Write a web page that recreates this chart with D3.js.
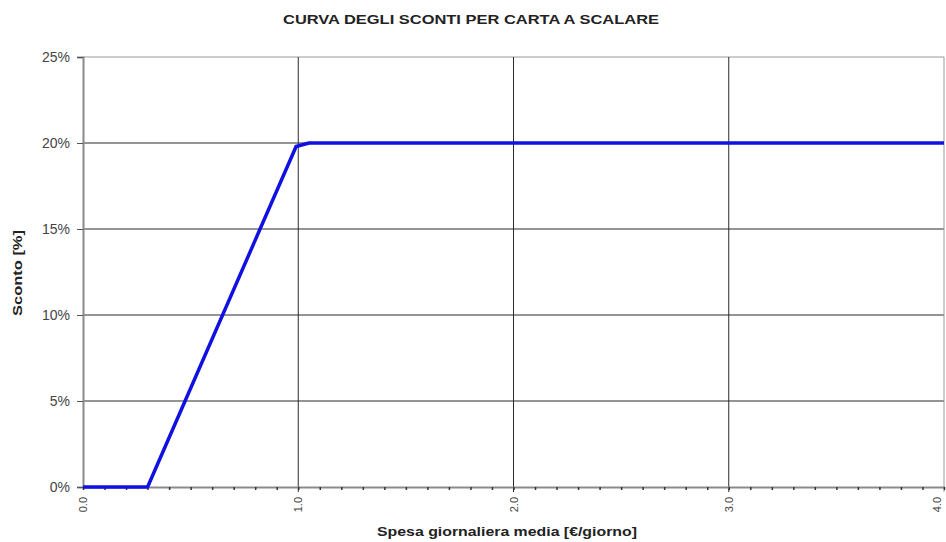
<!DOCTYPE html>
<html lang="en">
<head>
  <meta charset="UTF-8">
  <title>Curva degli sconti</title>
  <style>
    body { margin: 0; background: #fff; }
    svg text { font-family: "Liberation Sans", Arial, sans-serif; }
  </style>
</head>
<body>
  <svg id="chart" width="946" height="542"></svg>

  <script src="https://d3js.org/d3.v7.min.js"></script>
  <script>
    // spesa giornaliera media [€/giorno] -> sconto
    const spesa = [0.0, 0.3, 0.99, 1.05, 4.0];
    const sconto = [0.0, 0.0, 0.198, 0.20, 0.20];
    const xTicks = [0, 1, 2, 3, 4];
    const yTicks = [0, 0.05, 0.10, 0.15, 0.20, 0.25];

    const margin = { top: 57, right: 2, bottom: 55, left: 83 };
    const width = 946 - margin.left - margin.right;
    const height = 542 - margin.top - margin.bottom;

    const svg = d3.select("#chart");
    const g = svg.append("g")
      .attr("transform", `translate(${margin.left}, ${margin.top})`);

    const x = d3.scaleLinear().domain([0, 4]).range([0, width]);
    const y = d3.scaleLinear().domain([0, 0.25]).range([height, 0]);

    // grid
    g.selectAll(".hgrid")
      .data(yTicks.filter(d => d > 0))
      .enter().append("line")
      .attr("x1", 0).attr("x2", width)
      .attr("y1", d => y(d)).attr("y2", d => y(d))
      .attr("stroke", d => d === 0.25 ? "#9a9a9a" : "#2a2a2a")
      .attr("stroke-width", 1);

    g.selectAll(".vgrid")
      .data(xTicks.filter(d => d > 0))
      .enter().append("line")
      .attr("x1", d => x(d)).attr("x2", d => x(d))
      .attr("y1", 0).attr("y2", height + 5)
      .attr("stroke", d => d === 4 ? "#9a9a9a" : "#2a2a2a")
      .attr("stroke-width", 1);

    // y axis
    const yAxis = d3.axisLeft(y)
      .tickValues(yTicks)
      .tickFormat(d3.format(".0%"))
      .tickSize(6)
      .tickPadding(7);

    const yg = g.append("g").call(yAxis);
    yg.select(".domain").attr("stroke", "#8a8a8a").attr("stroke-width", 2);
    yg.selectAll(".tick line").attr("stroke", "#555");
    yg.selectAll("text").attr("fill", "#444").style("font-size", "14px");

    // x axis, minor ticks each 0.1
    const xAxis = d3.axisBottom(x)
      .tickValues(d3.range(0, 41).map(i => i / 10))
      .tickFormat("")
      .tickSize(3)
      .tickSizeOuter(0);

    const xg = g.append("g")
      .attr("transform", `translate(0, ${height})`)
      .call(xAxis);
    xg.select(".domain").attr("stroke", "#8a8a8a").attr("stroke-width", 2);
    xg.selectAll(".tick line").attr("stroke", "#333").attr("stroke-width", 1.5);

    // rotated x tick labels
    g.selectAll(".xlab")
      .data(xTicks)
      .enter().append("text")
      .attr("transform", d => `translate(${Math.min(x(d) + 4, width - 3)}, ${height + 10}) rotate(-90)`)
      .attr("text-anchor", "end")
      .attr("fill", "#444")
      .style("font-size", "11px")
      .text(d => d3.format(".1f")(d));

    // curve
    const line = d3.line()
      .x((d, i) => x(spesa[i]))
      .y((d, i) => y(sconto[i]));

    g.append("path")
      .datum(sconto)
      .attr("d", line)
      .attr("fill", "none")
      .attr("stroke", "#1010e0")
      .attr("stroke-width", 3.5)
      .attr("stroke-linejoin", "round");

    // titles
    svg.append("text")
      .attr("x", 471)
      .attr("y", 24)
      .attr("text-anchor", "middle")
      .attr("textLength", 376)
      .attr("lengthAdjust", "spacingAndGlyphs")
      .style("font-size", "13px")
      .style("font-weight", "bold")
      .attr("fill", "#222")
      .text("CURVA DEGLI SCONTI PER CARTA A SCALARE");

    svg.append("text")
      .attr("x", 507)
      .attr("y", 536)
      .attr("text-anchor", "middle")
      .attr("textLength", 260)
      .attr("lengthAdjust", "spacingAndGlyphs")
      .style("font-size", "13px")
      .style("font-weight", "bold")
      .attr("fill", "#222")
      .text("Spesa giornaliera media [€/giorno]");

    svg.append("text")
      .attr("transform", `translate(22, 273) rotate(-90)`)
      .attr("text-anchor", "middle")
      .attr("textLength", 86)
      .attr("lengthAdjust", "spacingAndGlyphs")
      .style("font-size", "13px")
      .style("font-weight", "bold")
      .attr("fill", "#222")
      .text("Sconto [%]");
  </script>
</body>
</html>
